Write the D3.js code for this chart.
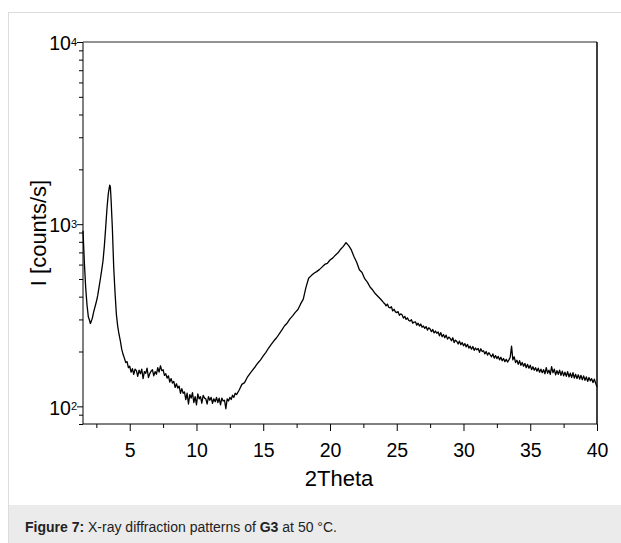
<!DOCTYPE html>
<html>
<head>
<meta charset="utf-8">
<script src="https://cdnjs.cloudflare.com/ajax/libs/d3/7.8.5/d3.min.js"></script>
<style>
  body { margin: 0; background: #fff; font-family: "Liberation Sans", Arial, sans-serif; }
</style>
</head>
<body>
<script>
'use strict';

// diffraction pattern: [2Theta, counts/s]
const pattern = [
  [1.5,920],[1.6,620],[1.7,450],[1.8,360],[1.9,310],[2.0,295],[2.05,285],[2.1,290],[2.2,305],[2.3,330],
  [2.4,352],[2.5,375],[2.6,405],[2.7,450],[2.8,500],[2.9,560],[3.0,630],[3.1,760],[3.2,960],[3.3,1230],
  [3.4,1480],[3.5,1640],[3.55,1600],[3.6,1380],[3.7,950],[3.8,580],[3.9,420],[4.0,320],[4.1,275],[4.2,248],
  [4.3,228],[4.4,206],[4.5,193],
  [4.6,184],[4.7,174],[4.8,176],[4.9,163],[5.0,166],[5.1,154],[5.2,161],[5.3,150],[5.4,160],[5.5,157],
  [5.6,146],[5.7,158],[5.8,151],[5.9,160],[6.0,142],[6.1,155],[6.2,152],[6.3,162],[6.4,144],[6.5,151],
  [6.6,156],[6.7,159],[6.8,147],[6.9,155],[7.0,150],[7.1,163],[7.2,154],[7.3,167],[7.4,157],[7.5,159],
  [7.6,148],[7.7,151],[7.8,143],[7.9,147],[8.0,136],[8.1,142],[8.2,134],[8.3,137],[8.4,127],[8.5,133],
  [8.6,126],[8.7,129],[8.8,118],[8.9,125],[9.0,118],[9.1,120],[9.2,109],[9.3,118],[9.4,103],[9.5,116],
  [9.6,111],[9.7,119],[9.8,105],[9.9,113],[10.0,102],[10.1,117],[10.2,110],[10.3,113],[10.4,104],[10.5,115],
  [10.6,111],[10.7,110],[10.8,103],[10.9,113],[11.0,108],[11.1,112],[11.2,104],[11.3,110],[11.4,106],[11.5,112],
  [11.6,105],[11.7,111],[11.8,102],[11.9,111],[12.0,107],[12.1,108],[12.2,97],[12.3,110],[12.4,107],[12.5,112],
  [12.6,109],[12.7,115],[12.8,112],[12.9,118],[13.0,116],
  [13.2,123],[13.4,132],[13.6,135],[13.8,144],[14.0,151],[14.2,158],[14.4,165],[14.6,173],[14.8,180],[15.0,189],
  [15.2,198],[15.4,209],[15.6,219],[15.8,229],[16.0,238],[16.2,250],[16.4,263],[16.6,277],[16.8,287],[17.0,302],
  [17.2,314],[17.4,328],[17.6,340],[17.8,365],[18.0,388],[18.2,450],[18.4,505],[18.6,522],[18.8,538],[19.0,549],
  [19.2,563],[19.4,581],[19.6,601],[19.8,609],[20.0,636],[20.2,651],[20.4,676],[20.6,696],[20.8,729],[21.0,755],
  [21.2,792],[21.4,762],[21.6,722],[21.8,662],[22.0,618],[22.2,562],[22.4,543],[22.6,502],[22.8,481],[23.0,452],
  [23.2,435],[23.4,415],[23.6,401],[23.8,387],[24.0,372],
  [24.1,366],[24.2,356],[24.3,364],[24.4,350],[24.5,347],[24.6,352],[24.7,334],[24.8,341],[24.9,330],[25.0,327],
  [25.1,331],[25.2,316],[25.3,322],[25.4,318],[25.5,305],[25.6,312],[25.7,300],[25.8,306],[25.9,296],[26.0,294],
  [26.1,299],[26.2,286],[26.3,290],[26.4,291],[26.5,279],[26.6,286],[26.7,276],[26.8,283],[26.9,272],[27.0,276],
  [27.1,268],[27.2,274],[27.3,262],[27.4,270],[27.5,266],[27.6,257],[27.7,264],[27.8,253],[27.9,259],[28.0,252],
  [28.1,256],[28.2,244],[28.3,254],[28.4,241],[28.5,248],[28.6,238],[28.7,246],[28.8,234],[28.9,240],[29.0,236],
  [29.1,229],[29.2,238],[29.3,224],[29.4,231],[29.5,227],[29.6,220],[29.7,228],[29.8,218],[29.9,224],[30.0,215],
  [30.1,221],[30.2,212],[30.3,219],[30.4,209],[30.5,214],[30.6,206],[30.7,213],[30.8,203],[30.9,209],[31.0,204],
  [31.1,208],[31.2,198],[31.3,207],[31.4,200],[31.5,202],[31.6,194],[31.7,200],[31.8,191],[31.9,197],[32.0,192],
  [32.1,187],[32.2,194],[32.3,184],[32.4,190],[32.5,183],[32.6,188],[32.7,180],[32.8,186],[32.9,178],[33.0,183],
  [33.1,176],[33.2,181],[33.3,175],[33.4,180],[33.5,186],[33.6,214],[33.65,196],[33.7,180],[33.8,187],[33.9,174],
  [34.0,179],[34.1,170],[34.2,178],[34.3,168],[34.4,174],[34.5,166],[34.6,172],[34.7,163],[34.8,170],[34.9,162],
  [35.0,168],[35.1,159],[35.2,165],[35.3,158],[35.4,163],[35.5,156],[35.6,162],[35.7,154],[35.8,160],[35.9,153],
  [36.0,159],[36.1,151],[36.2,163],[36.3,152],[36.4,158],[36.5,150],[36.6,165],[36.7,153],[36.8,160],[36.9,149],
  [37.0,157],[37.1,150],[37.2,158],[37.3,148],[37.4,156],[37.5,147],[37.6,154],[37.7,146],[37.8,155],[37.9,145],
  [38.0,152],[38.1,144],[38.2,153],[38.3,143],[38.4,150],[38.5,142],[38.6,149],[38.7,141],[38.8,148],[38.9,140],
  [39.0,147],[39.1,139],[39.2,145],[39.3,137],[39.4,144],[39.5,138],[39.6,142],[39.7,135],[39.8,141],[39.9,134],
  [40.0,128]
];

const xMajorTicks = [5, 10, 15, 20, 25, 30, 35, 40];
const xMinorTicks = [2.5, 7.5, 12.5, 17.5, 22.5, 27.5, 32.5, 37.5];
const yMajorTicks = [100, 1000, 10000];
const yMinorTicks = [80, 90, 200, 300, 400, 500, 600, 700, 800, 900,
                     2000, 3000, 4000, 5000, 6000, 7000, 8000, 9000];
const xDomain = [1.5, 40];
const yDomain = [80, 10000];

const W = 621, H = 543;
const plot = { left: 83, right: 597, top: 42, bottom: 424 };
const FONT = '"Liberation Sans", Arial, sans-serif';

window.onload = function() {
  const svg = d3.select('body').append('svg')
    .attr('width', W)
    .attr('height', H);

  // figure frame and caption strip
  svg.append('rect')
    .attr('x', 8.5).attr('y', 12.5)
    .attr('width', W).attr('height', H)
    .attr('fill', '#fff')
    .attr('stroke', '#dcdcdc');
  svg.append('rect')
    .attr('x', 9).attr('y', 505)
    .attr('width', W).attr('height', H - 505)
    .attr('fill', '#ebebeb');

  const caption = svg.append('text')
    .attr('x', 25).attr('y', 532)
    .style('font-family', FONT)
    .style('font-size', '14px')
    .attr('fill', '#222');
  caption.append('tspan').style('font-weight', 'bold').text('Figure 7:');
  caption.append('tspan').text(' X-ray diffraction patterns of ');
  caption.append('tspan').style('font-weight', 'bold').text('G3');
  caption.append('tspan').text(' at 50 °C.');

  const xScale = d3.scaleLinear().domain(xDomain).range([plot.left, plot.right]);
  const yScale = d3.scaleLog().domain(yDomain).range([plot.bottom, plot.top]);

  // x axis with major and minor ticks
  svg.append('g')
    .attr('transform', 'translate(0,' + plot.bottom + ')')
    .call(d3.axisBottom(xScale).tickValues(xMinorTicks).tickSize(4).tickFormat(''))
    .call(g => g.select('.domain').remove());
  const xAxis = svg.append('g')
    .attr('transform', 'translate(0,' + plot.bottom + ')')
    .call(d3.axisBottom(xScale).tickValues(xMajorTicks).tickSize(7).tickSizeOuter(0).tickPadding(12));
  xAxis.select('.domain').attr('d', 'M' + plot.left + ',0H' + plot.right);
  xAxis.selectAll('text')
    .style('font-size', '19.5px')
    .style('font-family', FONT);

  // y axis with decade labels as 10^n
  svg.append('g')
    .attr('transform', 'translate(' + plot.left + ',0)')
    .call(d3.axisLeft(yScale).tickValues(yMinorTicks).tickSize(4).tickFormat(''))
    .call(g => g.select('.domain').remove());
  const yAxis = svg.append('g')
    .attr('transform', 'translate(' + plot.left + ',0)')
    .call(d3.axisLeft(yScale).tickValues(yMajorTicks).tickSize(6).tickSizeOuter(0).tickFormat(''));
  yAxis.select('.domain').attr('d', 'M0,' + plot.bottom + 'V' + plot.top);
  yAxis.selectAll('.tick').append('text')
    .attr('x', -6).attr('dy', '0.4em')
    .attr('fill', '#000')
    .attr('text-anchor', 'end')
    .style('font-size', '19.5px')
    .style('font-family', FONT)
    .each(function(d) {
      const t = d3.select(this);
      t.append('tspan').text('10');
      t.append('tspan').attr('dy', '-0.42em').style('font-size', '11px')
        .text(Math.round(Math.log10(d)));
    });

  // top and right frame
  svg.append('line')
    .attr('x1', plot.left).attr('x2', plot.right)
    .attr('y1', plot.top).attr('y2', plot.top)
    .attr('stroke', '#6e6e6e').attr('stroke-width', 1.5);
  svg.append('line')
    .attr('x1', plot.right).attr('x2', plot.right)
    .attr('y1', plot.top).attr('y2', plot.bottom)
    .attr('stroke', '#000').attr('stroke-width', 1.5);

  // pattern
  const line = d3.line()
    .x(d => xScale(d[0]))
    .y(d => yScale(d[1]));
  svg.append('path')
    .datum(pattern)
    .attr('d', line)
    .attr('fill', 'none')
    .attr('stroke', '#000')
    .attr('stroke-width', 1.3)
    .attr('stroke-linejoin', 'round');

  // axis titles
  svg.append('text')
    .attr('x', 339)
    .attr('y', 486)
    .attr('text-anchor', 'middle')
    .style('font-family', FONT)
    .style('font-size', '22px')
    .text('2Theta');
  svg.append('text')
    .attr('transform', 'translate(46,233)rotate(-90)')
    .attr('text-anchor', 'middle')
    .style('font-family', FONT)
    .style('font-size', '22px')
    .text('I [counts/s]');
}
</script>
</body>
</html>
